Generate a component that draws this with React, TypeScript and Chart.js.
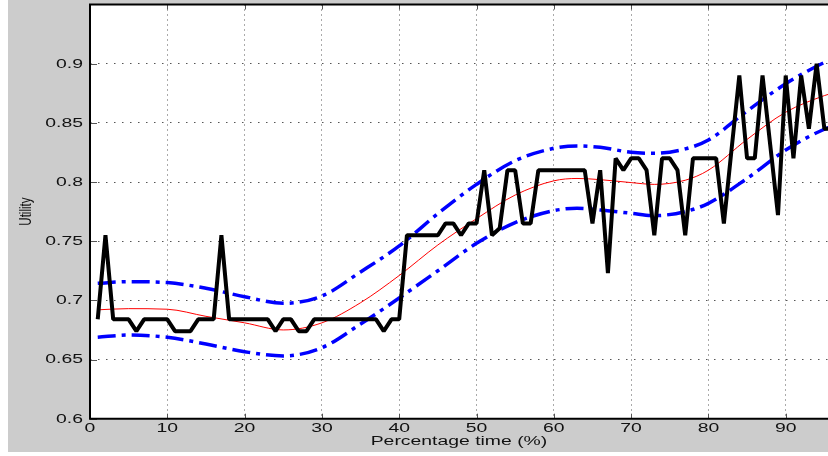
import React, { useEffect, useRef } from 'react';
import { Chart, registerables } from 'chart.js';

Chart.register(...registerables);

// ---- data ----
const timeSteps = [
  1, 2, 3, 4, 5, 6, 7, 8, 9, 10, 11, 12, 13, 14, 15, 16, 17, 18, 19, 20,
  21, 22, 23, 24, 25, 26, 27, 28, 29, 30, 31, 32, 33, 34, 35, 36, 37, 38, 39, 40,
  41, 42, 43, 44, 45, 46, 47, 48, 49, 50, 51, 52, 53, 54, 55, 56, 57, 58, 59, 60,
  61, 62, 63, 64, 65, 66, 67, 68, 69, 70, 71, 72, 73, 74, 75, 76, 77, 78, 79, 80,
  81, 82, 83, 84, 85, 86, 87, 88, 89, 90, 91, 92, 93, 94, 95, 96,
];
const observedUtility = [
  0.684, 0.755, 0.684, 0.684, 0.684, 0.674, 0.684, 0.684, 0.684, 0.684,
  0.674, 0.674, 0.674, 0.684, 0.684, 0.684, 0.755, 0.684, 0.684, 0.684,
  0.684, 0.684, 0.684, 0.674, 0.684, 0.684, 0.674, 0.674, 0.684, 0.684,
  0.684, 0.684, 0.684, 0.684, 0.684, 0.684, 0.684, 0.674, 0.684, 0.684,
  0.755, 0.755, 0.755, 0.755, 0.755, 0.765, 0.765, 0.755, 0.765, 0.765,
  0.81, 0.755, 0.761, 0.81, 0.81, 0.765, 0.765, 0.81, 0.81, 0.81,
  0.81, 0.81, 0.81, 0.81, 0.765, 0.81, 0.723, 0.82, 0.81, 0.82,
  0.82, 0.81, 0.755, 0.82, 0.82, 0.81, 0.755, 0.82, 0.82, 0.82,
  0.82, 0.765, 0.828, 0.89, 0.82, 0.82, 0.89, 0.831, 0.772, 0.89,
  0.82, 0.89, 0.845, 0.9, 0.845, 0.845,
];

const fitTimes = [1, 5, 10, 15, 20, 25, 30, 35, 40, 45, 50, 55, 60, 63, 66, 70, 73, 77, 80, 85, 90, 95, 97];
const fitMean = [
  0.692, 0.693, 0.6925, 0.6865, 0.681, 0.675, 0.681, 0.698, 0.721, 0.7468, 0.769, 0.789,
  0.801, 0.803, 0.802, 0.7995, 0.798, 0.8015, 0.81, 0.836, 0.859, 0.873, 0.877,
];
const fitUpper = [
  0.7144, 0.7158, 0.715, 0.7102, 0.7031, 0.6975, 0.7037, 0.724, 0.746, 0.7733, 0.798, 0.818,
  0.8285, 0.8305, 0.8293, 0.8251, 0.8243, 0.828, 0.8355, 0.86, 0.883, 0.901, 0.906,
];
const fitLower = [
  0.6688, 0.6707, 0.6688, 0.6631, 0.6566, 0.653, 0.66, 0.68, 0.702, 0.725, 0.7482, 0.7657,
  0.7758, 0.7778, 0.7764, 0.7736, 0.7716, 0.775, 0.782, 0.803, 0.827, 0.8446, 0.849,
];

const xTickValues = [0, 10, 20, 30, 40, 50, 60, 70, 80, 90];
const xTickLabels = ['0', '10', '20', '30', '40', '50', '60', '70', '80', '90'];
const yTickValues = [0.6, 0.65, 0.7, 0.75, 0.8, 0.85, 0.9];
const yTickLabels = ['0.6', '0.65', '0.7', '0.75', '0.8', '0.85', '0.9'];
const xTitle = 'Percentage time (%)';
const yTitle = 'Utility';

const X_MIN = 0;
const X_MAX = 95.47;
const Y_MIN = 0.6;
const Y_MAX = 0.95;

const FONT = '"Liberation Sans", Arial, Helvetica, sans-serif';
const STRETCH = 1.55;

function stretchedText(ctx: CanvasRenderingContext2D, text: string, x: number, y: number, align: CanvasTextAlign, rotate = false, sx = STRETCH) {
  ctx.save();
  ctx.translate(x, y);
  ctx.scale(sx, 1);
  if (rotate) ctx.rotate(-Math.PI / 2);
  ctx.textAlign = align;
  ctx.textBaseline = 'middle';
  ctx.fillText(text, 0, 0);
  ctx.restore();
}

const matlabLook = {
  id: 'matlabLook',
  beforeDraw(chart: any) {
    const { ctx, chartArea: a, width, height } = chart;
    ctx.save();
    ctx.fillStyle = '#ffffff';
    ctx.fillRect(0, 0, width, height);
    ctx.fillStyle = '#cccccc';
    ctx.fillRect(8, 0, width - 8, height - 4);
    ctx.fillStyle = '#ffffff';
    ctx.fillRect(a.left, a.top, a.right - a.left, a.bottom - a.top);
    ctx.restore();
  },
  afterDraw(chart: any) {
    const { ctx, chartArea: a } = chart;
    const xs = chart.scales.x;
    const ys = chart.scales.y;
    ctx.save();
    // inward tick marks
    ctx.strokeStyle = '#555';
    ctx.lineWidth = 1;
    ctx.beginPath();
    yTickValues.forEach((v) => {
      const py = Math.round(ys.getPixelForValue(v)) + 0.5;
      ctx.moveTo(a.left, py);
      ctx.lineTo(a.left + 7, py);
    });
    xTickValues.forEach((v) => {
      const px = Math.round(xs.getPixelForValue(v)) + 0.5;
      ctx.moveTo(px, a.bottom);
      ctx.lineTo(px, a.bottom - 5);
      ctx.moveTo(px, a.top);
      ctx.lineTo(px, a.top + 5);
    });
    ctx.stroke();
    // axes box (left, bottom, top)
    ctx.strokeStyle = '#000';
    ctx.lineWidth = 2;
    ctx.beginPath();
    ctx.moveTo(a.right + 2, a.top);
    ctx.lineTo(a.left, a.top);
    ctx.lineTo(a.left, a.bottom);
    ctx.lineTo(a.right + 2, a.bottom);
    ctx.stroke();
    // labels
    ctx.fillStyle = '#111';
    ctx.font = `12.5px ${FONT}`;
    yTickValues.forEach((v, i) => {
      stretchedText(ctx, yTickLabels[i], a.left - 7, ys.getPixelForValue(v) + 0.5, 'right');
    });
    xTickValues.forEach((v, i) => {
      stretchedText(ctx, xTickLabels[i], xs.getPixelForValue(v), a.bottom + 10, 'center');
    });
    stretchedText(ctx, xTitle, (a.left + a.right) / 2, a.bottom + 23, 'center');
    ctx.font = `11.5px ${FONT}`;
    stretchedText(ctx, yTitle, 26, (a.top + a.bottom) / 2, 'center', true, 1.45);
    ctx.restore();
  },
};

export default function App() {
  const canvasRef = useRef<HTMLCanvasElement | null>(null);

  useEffect(() => {
    if (!canvasRef.current) return;
    const toPoints = (xs: number[], ys: number[]) => xs.map((x, i) => ({ x, y: ys[i] }));
    const chart = new Chart(canvasRef.current, {
      type: 'line',
      data: {
        datasets: [
          {
            label: 'Observed utility',
            data: toPoints(timeSteps, observedUtility),
            borderColor: '#000000',
            borderWidth: 4,
            pointRadius: 0,
            tension: 0,
            borderJoinStyle: 'bevel',
            borderCapStyle: 'butt',
            fill: false,
          },
          {
            label: 'Fit',
            data: toPoints(fitTimes, fitMean),
            borderColor: '#ff0000',
            borderWidth: 1,
            pointRadius: 0,
            cubicInterpolationMode: 'monotone',
            fill: false,
          },
          {
            label: 'Upper bound',
            data: toPoints(fitTimes, fitUpper),
            borderColor: '#0000ff',
            borderWidth: 3.5,
            borderDash: [18, 6, 4, 6],
            pointRadius: 0,
            cubicInterpolationMode: 'monotone',
            fill: false,
          },
          {
            label: 'Lower bound',
            data: toPoints(fitTimes, fitLower),
            borderColor: '#0000ff',
            borderWidth: 3.5,
            borderDash: [18, 6, 4, 6],
            pointRadius: 0,
            cubicInterpolationMode: 'monotone',
            fill: false,
          },
        ],
      },
      options: {
        animation: false,
        responsive: true,
        maintainAspectRatio: false,
        devicePixelRatio: 1,
        layout: { padding: { top: 4.5, left: 0, right: 0, bottom: 0 } },
        plugins: { legend: { display: false }, tooltip: { enabled: false } },
        events: [],
        scales: {
          x: {
            type: 'linear',
            min: X_MIN,
            max: X_MAX,
            afterBuildTicks: (s: any) => {
              s.ticks = xTickValues.map((v) => ({ value: v }));
            },
            afterFit: (s: any) => {
              s.height = 37.3;
            },
            ticks: { display: false },
            grid: { color: '#555', lineWidth: 1, drawTicks: false },
            border: { display: false, dash: [1, 4] },
          },
          y: {
            type: 'linear',
            min: Y_MIN,
            max: Y_MAX,
            afterBuildTicks: (s: any) => {
              s.ticks = yTickValues.map((v) => ({ value: v }));
            },
            afterFit: (s: any) => {
              s.width = 90;
            },
            ticks: { display: false },
            grid: { color: '#555', lineWidth: 1, drawTicks: false },
            border: { display: false, dash: [1.5, 6.5] },
          },
        },
      },
      plugins: [matlabLook],
    } as any);
    return () => chart.destroy();
  }, []);

  return (
    <div style={{ position: 'fixed', left: 0, top: 0, width: 828, height: 456 }}>
      <canvas ref={canvasRef} />
    </div>
  );
}
